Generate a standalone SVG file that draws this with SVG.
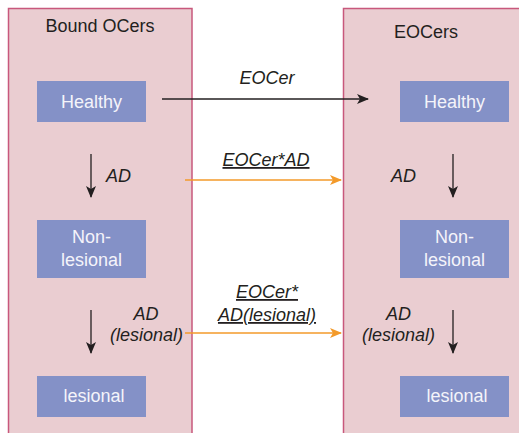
<svg xmlns="http://www.w3.org/2000/svg" width="519" height="433" viewBox="0 0 519 433">
  <style>
    text { font-family: "Liberation Sans", Arial, sans-serif; font-size: 18px; }
    .panel { fill: #eacdd1; stroke: #c8587c; stroke-width: 1.5; }
    .box { fill: #8491c7; }
    .boxlabel { fill: #f4f4fa; text-anchor: middle; }
    .title { fill: #231f20; text-anchor: middle; }
    .lbl { fill: #231f20; font-style: italic; text-anchor: middle; }
    .ul { text-decoration: underline; }
    .blk { stroke: #231f20; stroke-width: 1.3; fill: none; }
    .org { stroke: #f39a2a; stroke-width: 1.5; fill: none; }
  </style>
  <defs>
    <marker id="ahBlack" markerWidth="12" markerHeight="10" refX="11" refY="5" orient="auto" markerUnits="userSpaceOnUse">
      <path d="M0,0 L12,5 L0,10 L3,5 Z" fill="#231f20"/>
    </marker>
    <marker id="ahOrange" markerWidth="12" markerHeight="10" refX="11" refY="5" orient="auto" markerUnits="userSpaceOnUse">
      <path d="M0,0 L12,5 L0,10 L3,5 Z" fill="#f39a2a"/>
    </marker>
  </defs>

  <!-- panels -->
  <g id="panel-bound">
    <rect class="panel" x="8.5" y="8.5" width="183.5" height="440"/>
    <text class="title" x="100" y="32">Bound OCers</text>
  </g>
  <g id="panel-eocers">
    <rect class="panel" x="343.5" y="8.5" width="190" height="440"/>
    <text class="title" x="426" y="38">EOCers</text>
  </g>

  <!-- bound states -->
  <g id="bound-healthy">
    <rect class="box" x="37" y="81" width="109" height="41"/>
    <text class="boxlabel" x="91.5" y="108">Healthy</text>
  </g>
  <g id="bound-nonlesional">
    <rect class="box" x="37" y="220" width="109" height="58"/>
    <text class="boxlabel" x="91.5" y="243">Non-</text>
    <text class="boxlabel" x="91.5" y="266">lesional</text>
  </g>
  <g id="bound-lesional">
    <rect class="box" x="37" y="376" width="109" height="41"/>
    <text class="boxlabel" x="94" y="402">lesional</text>
  </g>

  <!-- EOCer states -->
  <g id="eocer-healthy">
    <rect class="box" x="400" y="81" width="109" height="41"/>
    <text class="boxlabel" x="454.5" y="108">Healthy</text>
  </g>
  <g id="eocer-nonlesional">
    <rect class="box" x="400" y="220" width="109" height="58"/>
    <text class="boxlabel" x="454.5" y="243">Non-</text>
    <text class="boxlabel" x="454.5" y="266">lesional</text>
  </g>
  <g id="eocer-lesional">
    <rect class="box" x="400" y="376" width="109" height="41"/>
    <text class="boxlabel" x="457" y="402">lesional</text>
  </g>

  <!-- connectors -->
  <g id="connectors">
    <line class="blk" x1="162" y1="99" x2="368" y2="99" marker-end="url(#ahBlack)"/>
    <text class="lbl" x="267" y="84">EOCer</text>

    <line class="blk" x1="91" y1="154" x2="91" y2="197" marker-end="url(#ahBlack)"/>
    <text class="lbl" x="118.5" y="182">AD</text>

    <line class="org" x1="185" y1="180" x2="341" y2="180" marker-end="url(#ahOrange)"/>
    <text class="lbl ul" x="266" y="166">EOCer*AD</text>

    <text class="lbl" x="403.5" y="182">AD</text>
    <line class="blk" x1="453" y1="154" x2="453" y2="197" marker-end="url(#ahBlack)"/>

    <line class="blk" x1="91" y1="310" x2="91" y2="353" marker-end="url(#ahBlack)"/>
    <text class="lbl" x="146" y="320">AD</text>
    <text class="lbl" x="146.5" y="341">(lesional)</text>

    <line class="org" x1="185" y1="333" x2="341" y2="333" marker-end="url(#ahOrange)"/>
    <text class="lbl ul" x="267" y="298">EOCer*</text>
    <text class="lbl ul" x="267" y="321">AD(lesional)</text>

    <text class="lbl" x="398.5" y="320">AD</text>
    <text class="lbl" x="398.5" y="341">(lesional)</text>
    <line class="blk" x1="453" y1="310" x2="453" y2="353" marker-end="url(#ahBlack)"/>
  </g>
</svg>
